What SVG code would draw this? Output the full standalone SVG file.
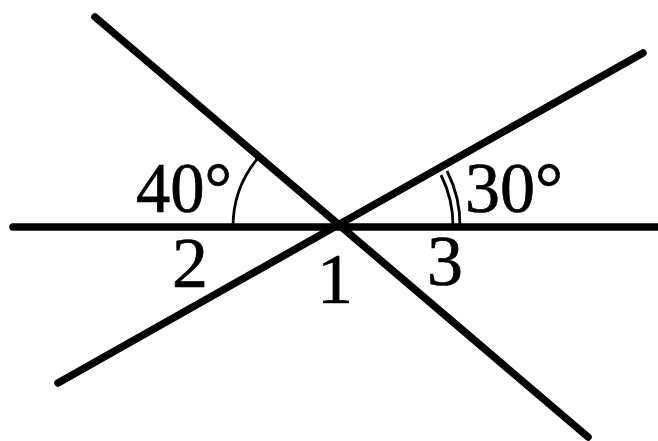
<svg xmlns="http://www.w3.org/2000/svg" width="658" height="441" viewBox="0 0 658 441">
<style>
.ln{stroke:#000;stroke-width:7.5;stroke-linecap:round;fill:none}
.arc{stroke:#000;stroke-width:2.8;fill:none}
.t{font-family:"Liberation Serif","Times New Roman",serif;font-size:72px;fill:#000;stroke:#000;stroke-width:0.7}
</style>
<rect width="658" height="441" fill="#fff"/>
<g id="connectors">
<line class="ln" x1="13" y1="227" x2="660" y2="227"/>
<line class="ln" x1="95" y1="17" x2="588" y2="437"/>
<line class="ln" x1="58" y1="383" x2="643" y2="53"/>
</g>
<g id="angle40">
<path class="arc" d="M233,227 A107,107 0 0 1 258,158"/>
<text class="t" x="136" y="212" textLength="96" lengthAdjust="spacingAndGlyphs">40°</text>
</g>
<g id="angle30">
<path class="arc" d="M453,227 A113,113 0 0 0 441,175"/>
<path class="arc" d="M460,227 A120,120 0 0 0 447,171"/>
<text class="t" x="465" y="212" textLength="98" lengthAdjust="spacingAndGlyphs">30°</text>
</g>
<g id="label2"><text class="t" x="172" y="287">2</text></g>
<g id="label1"><text class="t" x="317" y="303">1</text></g>
<g id="label3"><text class="t" x="427" y="285">3</text></g>
</svg>
